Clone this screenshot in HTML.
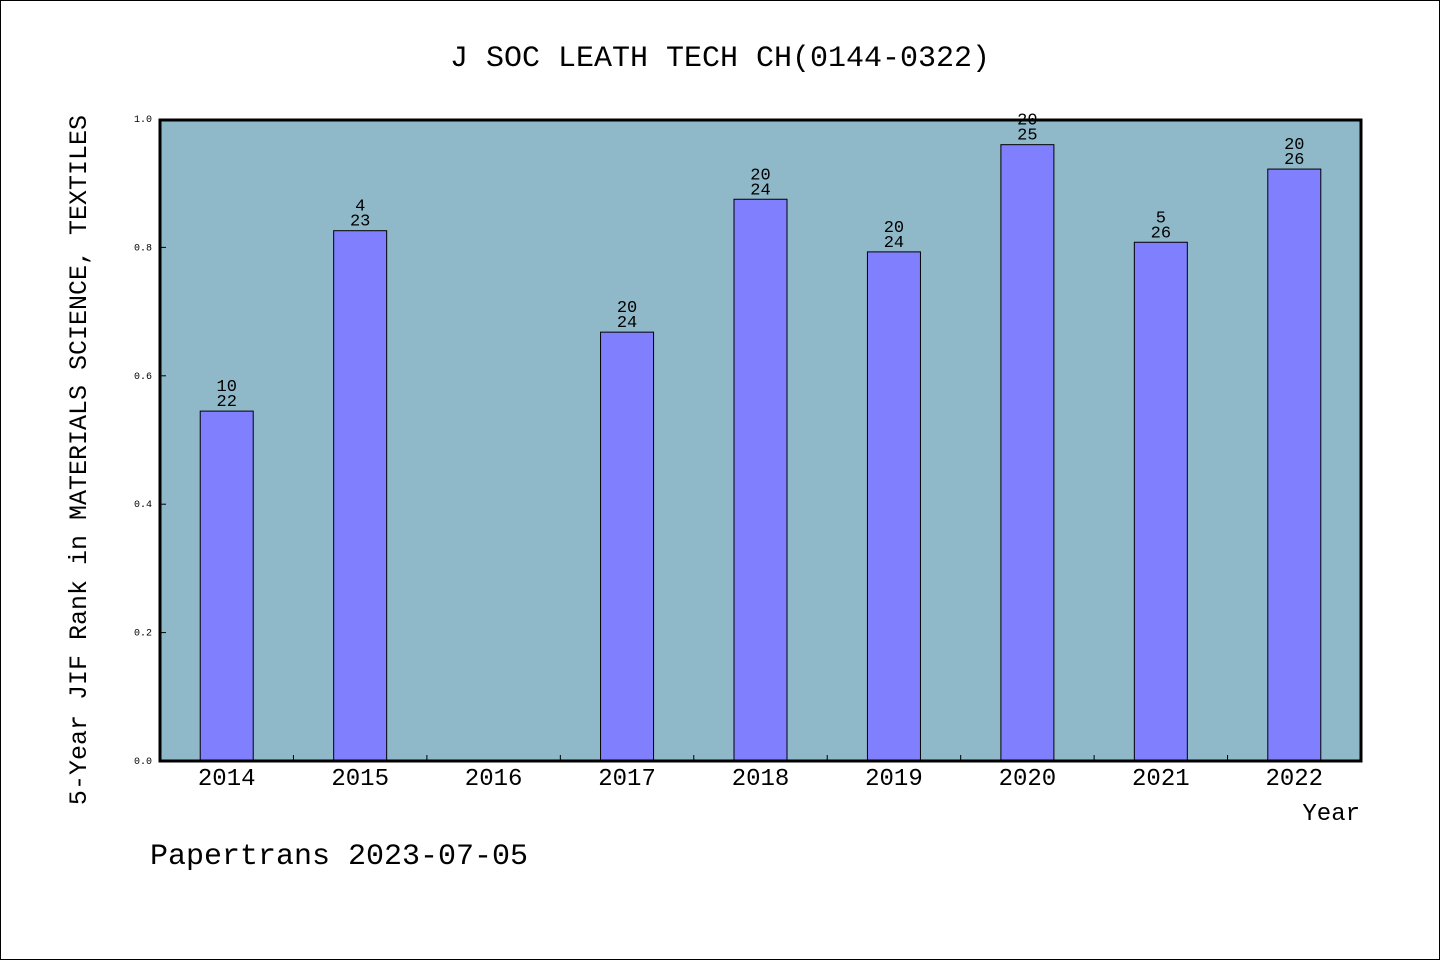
<!DOCTYPE html>
<html><head><meta charset="utf-8"><style>
body{margin:0;background:#fff}
svg{display:block}
text{font-family:"Liberation Mono","WenQuanYi Zen Hei",monospace;fill:#000}
</style></head><body>
<svg width="1440" height="960" id="c">
<rect x="0.5" y="0.5" width="1439" height="959" fill="#fff" stroke="#000"/>
<text x="720" y="66" font-size="30" text-anchor="middle">J SOC LEATH TECH CH(0144-0322)</text>
<rect x="160" y="120" width="1201" height="641" fill="#8fb8c8"/>
<g id="bars"></g>
<rect x="160" y="120" width="1201" height="641" fill="none" stroke="#000" stroke-width="3"/>
<g id="axes"></g>
<text transform="translate(86,460) rotate(-90)" font-size="25" text-anchor="middle">5-Year JIF Rank in MATERIALS SCIENCE, TEXTILES</text>
<text x="1360" y="820" font-size="24" text-anchor="end">Year</text>
<text x="150" y="864" font-size="30">Papertrans 2023-07-05</text>
</svg>
<script>
const categories=["2014","2015","2016","2017","2018","2019","2020","2021","2022"];
const values=[0.545,0.826,null,0.668,0.875,0.793,0.960,0.808,0.922];
const rankTop=["10","4","","20","20","20","20","5","20"];
const rankBottom=["22","23","","24","24","24","25","26","26"];
const yTicks=["0.0","0.2","0.4","0.6","0.8","1.0"];
const X0=160,X1=1361,Y0=761,Y1=119;
const slot=(X1-X0)/categories.length;
const xc=i=>X0+slot*(i+0.5);
const y=v=>Y0-(Y0-Y1)*v;
const NS="http://www.w3.org/2000/svg";
function mk(t,a,p){const e=document.createElementNS(NS,t);for(const k in a)e.setAttribute(k,a[k]);p.appendChild(e);return e;}
const bars=document.getElementById('bars'),axes=document.getElementById('axes');
values.forEach((v,i)=>{
  if(v==null)return;
  const r=mk('rect',{x:xc(i)-26.5,y:y(v),width:53,height:Y0-y(v),fill:'#8080ff',stroke:'#000','stroke-width':1},bars);
  
  
  const t1=mk('text',{x:xc(i),y:y(v)-20,'font-size':17,'text-anchor':'middle'},bars);t1.textContent=rankTop[i];
  
  
  const t2=mk('text',{x:xc(i),y:y(v)-5,'font-size':17,'text-anchor':'middle'},bars);t2.textContent=rankBottom[i];
  
  
});
categories.forEach((c,i)=>{
  const t=mk('text',{x:xc(i),y:785,'font-size':24,'text-anchor':'middle'},axes);t.textContent=c;
  
  
  if(i>0){const l=mk('line',{x1:X0+slot*i,x2:X0+slot*i,y1:761,y2:755,stroke:'#000'},axes);
  
  }
});
yTicks.forEach(s=>{
  const v=parseFloat(s);
  const t=mk('text',{x:152,y:y(v)+3,'font-size':10,'text-anchor':'end'},axes);t.textContent=s;
  
  
  const l=mk('line',{x1:160,x2:166,y1:y(v),y2:y(v),stroke:'#000'},axes);
  
  
});
</script>
</body></html>
